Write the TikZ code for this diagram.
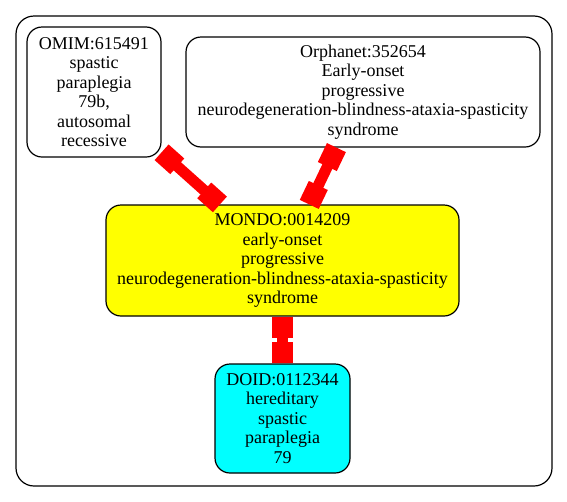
\documentclass[tikz,border=0pt]{standalone}
\usepackage{fontspec}
\setmainfont{Liberation Serif}
\newfontfamily\diagfont{Liberation Serif}
\usetikzlibrary{arrows.meta}
\definecolor{boxyellow}{RGB}{255,255,0}
\definecolor{boxcyan}{RGB}{0,255,255}
\definecolor{linkred}{RGB}{255,0,0}
\tikzset{
  box/.style={draw=black, line width=1.2pt, rounded corners=15pt, align=center, inner sep=0pt,
    font=\diagfont\fontsize{18pt}{19.5pt}\selectfont},
  link/.style={draw=linkred, line width=11pt,
    {Rectangle[length=21pt,width=21pt]}-{Rectangle[length=21pt,width=21pt]}}
}
\begin{document}
\begin{tikzpicture}[x=1pt,y=-1pt]
\useasboundingbox (0,0) rectangle (567,501);
\node[draw=black, line width=1.2pt, rounded corners=18pt, minimum width=536pt, minimum height=470pt, inner sep=0pt] (frame) at (284,251) {};
\node[box, minimum width=134pt, minimum height=130pt] (omim) at (94,92)
  {OMIM:615491\\spastic\\paraplegia\\79b,\\autosomal\\recessive};
\node[box, minimum width=354pt, minimum height=110pt] (orpha) at (363,92)
  {Orphanet:352654\\Early-onset\\progressive\\neurodegeneration-blindness-ataxia-spasticity\\syndrome};
\node[box, fill=boxyellow, minimum width=353pt, minimum height=111pt] (mondo) at (282.5,260.5)
  {MONDO:0014209\\early-onset\\progressive\\neurodegeneration-blindness-ataxia-spasticity\\syndrome};
\node[box, fill=boxcyan, minimum width=135pt, minimum height=109pt] (doid) at (282.5,418.5)
  {DOID:0112344\\hereditary\\spastic\\paraplegia\\79};
\draw[link] (omim) -- (mondo);
\draw[link] (orpha) -- (mondo);
\draw[link] (mondo) -- (doid);
\end{tikzpicture}
\end{document}
